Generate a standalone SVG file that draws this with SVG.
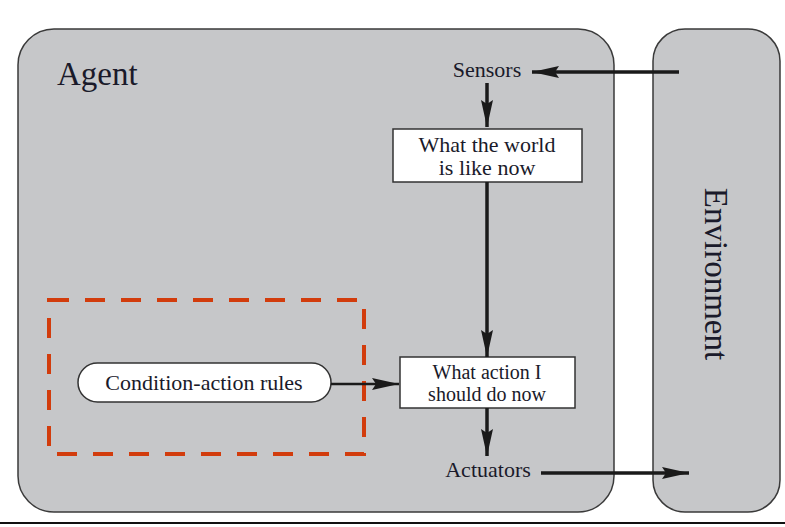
<svg xmlns="http://www.w3.org/2000/svg" width="785" height="527" viewBox="0 0 785 527">
<style>
.panel{fill:#c6c7c9;stroke:#3a3a3a;stroke-width:1.5}
.box{fill:#ffffff;stroke:#333;stroke-width:1.5}
.t{font-family:"Liberation Serif","Times New Roman",serif;fill:#1a1a2a;font-size:22px;text-anchor:middle}
.t2{font-family:"Liberation Serif","Times New Roman",serif;fill:#1a1a2a;font-size:20px;text-anchor:middle}
.big{font-family:"Liberation Serif","Times New Roman",serif;fill:#1a1a2a;font-size:33px}
.arr{stroke:#1a1a1a;stroke-width:3.5;fill:none;marker-end:url(#ah)}
.arr2{stroke:#1a1a1a;stroke-width:2.5;fill:none;marker-end:url(#ah)}
</style>
<defs>
<marker id="ah" viewBox="0 0 27 12" refX="27" refY="6" markerWidth="27" markerHeight="12" markerUnits="userSpaceOnUse" orient="auto">
<path d="M0,0 L27,6 L0,12 L4,6 Z" fill="#1a1a1a"/>
</marker>
</defs>
<rect width="785" height="527" fill="#ffffff"/>
<g id="agent">
<rect class="panel" x="18" y="29" width="596" height="483" rx="36" ry="36"/>
<text class="big" x="57" y="85">Agent</text>
</g>
<g id="environment">
<rect class="panel" x="653" y="29" width="127" height="483" rx="32" ry="32"/>
<text class="big" transform="translate(705,274) rotate(90)" text-anchor="middle">Environment</text>
</g>
<g id="sensors">
<text class="t" x="487" y="77">Sensors</text>
</g>
<g id="world">
<rect class="box" x="393" y="129" width="189" height="53"/>
<text class="t" x="487" y="152">What the world</text>
<text class="t" x="487" y="175">is like now</text>
</g>
<g id="action">
<rect class="box" x="400" y="357" width="175" height="51"/>
<text class="t2" x="487" y="379">What action I</text>
<text class="t2" x="487" y="401">should do now</text>
</g>
<g id="actuators">
<text class="t" x="488" y="477">Actuators</text>
</g>
<g id="rules">
<rect x="49" y="300" width="315" height="154" fill="none" stroke="#d23c0c" stroke-width="4" stroke-dasharray="20,16"/>
<rect class="box" x="78" y="363" width="253" height="39" rx="19.5" ry="19.5"/>
<text class="t" x="204" y="390">Condition-action rules</text>
</g>
<g id="connectors">
<path class="arr" d="M679,72 H532"/>
<path class="arr" d="M487,83 V127"/>
<path class="arr" d="M487,182 V357"/>
<path class="arr" d="M487,408 V456"/>
<path class="arr" d="M541,473 H689"/>
<path class="arr2" d="M331,384 H399"/>
</g>
<line x1="0" y1="523" x2="785" y2="523" stroke="#111" stroke-width="2"/>
</svg>
